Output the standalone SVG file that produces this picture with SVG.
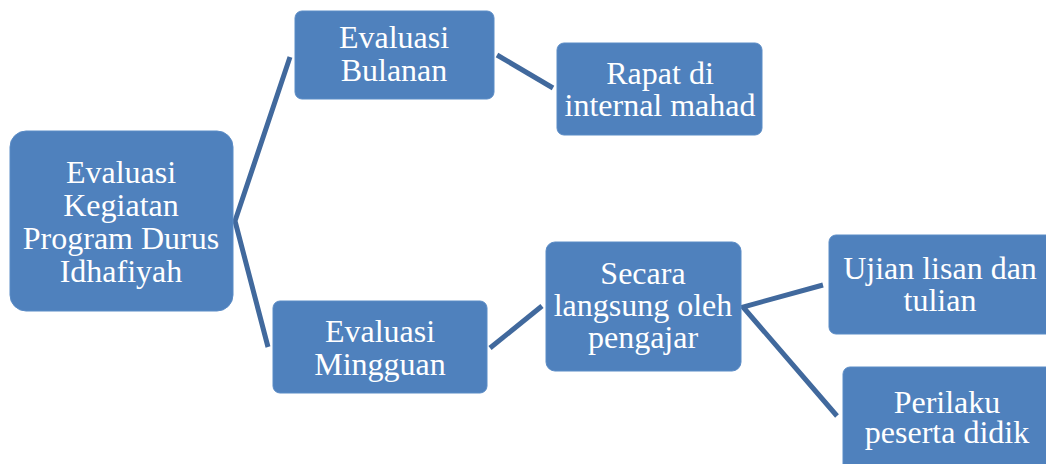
<svg xmlns="http://www.w3.org/2000/svg" width="1046" height="464" viewBox="0 0 1046 464">
<style>
.box{fill:#4F81BD;stroke:#5B8CC6;stroke-width:1}
.t{font-family:"Liberation Serif","Times New Roman",serif;font-size:32px;fill:#FFFFFF;text-anchor:middle}
.c{stroke:#41699D;stroke-width:5;fill:none;stroke-linecap:butt}
</style>
<rect width="1046" height="464" fill="#FFFFFF"/>
<g id="connectors">
<polyline class="c" points="290,57 235,221 268,347"/>
<line class="c" x1="497" y1="55" x2="553" y2="88"/>
<line class="c" x1="490" y1="348" x2="542" y2="306"/>
<polyline class="c" points="823,285 743,307 837,416"/>
</g>
<g id="root">
<rect class="box" x="10" y="131" width="223" height="180" rx="16"/>
<text class="t" x="121" y="183">Evaluasi</text>
<text class="t" x="121" y="216">Kegiatan</text>
<text class="t" x="121" y="249">Program Durus</text>
<text class="t" x="121" y="282">Idhafiyah</text>
</g>
<g id="bulanan">
<rect class="box" x="295" y="11" width="199" height="88" rx="7"/>
<text class="t" x="394" y="48">Evaluasi</text>
<text class="t" x="394" y="81">Bulanan</text>
</g>
<g id="rapat">
<rect class="box" x="557" y="43" width="205" height="92" rx="7"/>
<text class="t" x="660" y="84">Rapat di</text>
<text class="t" x="660" y="116">internal mahad</text>
</g>
<g id="mingguan">
<rect class="box" x="273" y="301" width="214" height="92" rx="7"/>
<text class="t" x="380" y="342">Evaluasi</text>
<text class="t" x="380" y="375">Mingguan</text>
</g>
<g id="secara">
<rect class="box" x="546" y="242" width="195" height="129" rx="9"/>
<text class="t" x="643" y="284">Secara</text>
<text class="t" x="643" y="316">langsung oleh</text>
<text class="t" x="643" y="348">pengajar</text>
</g>
<g id="ujian">
<rect class="box" x="829" y="235" width="230" height="99" rx="7"/>
<text class="t" x="940" y="279">Ujian lisan dan</text>
<text class="t" x="940" y="311">tulian</text>
</g>
<g id="perilaku">
<rect class="box" x="843" y="367" width="216" height="110" rx="7"/>
<text class="t" x="947" y="413">Perilaku</text>
<text class="t" x="947" y="443">peserta didik</text>
</g>
</svg>
